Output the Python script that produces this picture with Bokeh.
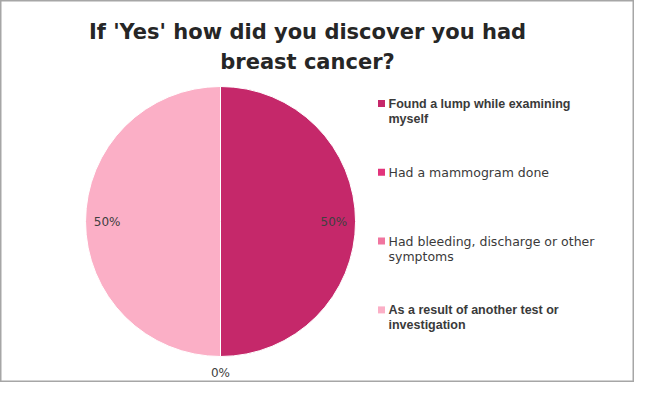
import math
from bokeh.plotting import figure
from bokeh.models import ColumnDataSource, Range1d
from bokeh.core.properties import value
from bokeh.embed import file_html
from bokeh.resources import INLINE

# ---- data ----
title_lines = ["If 'Yes' how did you discover you had", "breast cancer?"]
categories = [
    "Found a lump while examining\nmyself",
    "Had a mammogram done",
    "Had bleeding, discharge or other\nsymptoms",
    "As a result of another test or\ninvestigation",
]
values = [50, 0, 0, 50]
colors = ["#C5286A", "#E2347C", "#F0759F", "#FBAFC6"]
legend_bold = [True, False, False, True]

FONT = "DejaVu Sans"
BOLD_FONT = "Liberation Sans"
TXT = "#3A3A3A"

W, H = 634, 382

p = figure(width=W, height=H, output_backend="svg", toolbar_location=None,
           x_range=Range1d(0, W), y_range=Range1d(0, H), min_border=0)
p.axis.visible = False
p.grid.visible = False
p.outline_line_color = "#A6A6A6"
p.outline_line_width = 2
p.background_fill_color = "white"
p.border_fill_color = "white"

def X(xpage):
    return xpage

def Y(ypage):
    return H - ypage

# ---- title ----
p.text(x=[X(307), X(307)], y=[Y(31), Y(61)], text=title_lines,
       text_font=value(FONT), text_font_style="bold", text_font_size="21px",
       text_color="#262626", text_align="center", text_baseline="middle")

# ---- pie ----
cx, cy, r = X(220), Y(221), 135
total = float(sum(values))
starts, ends = [], []
cum = 0.0
for v in values:
    starts.append(math.pi / 2 - 2 * math.pi * cum / total)
    cum += v
    ends.append(math.pi / 2 - 2 * math.pi * cum / total)

nz = [i for i, v in enumerate(values) if v > 0]
wsrc = ColumnDataSource(dict(
    start=[starts[i] for i in nz], end=[ends[i] for i in nz],
    color=[colors[i] for i in nz]))
p.wedge(x=cx, y=cy, radius=r, start_angle="start", end_angle="end",
        direction="clock", fill_color="color", line_color="white",
        line_width=1, source=wsrc)

# ---- percentage labels ----
lx, ly, lt = [], [], []
seen = set()
for i, v in enumerate(values):
    mid = (starts[i] + ends[i]) / 2
    dist = r * 0.84 if v > 0 else r * 1.12
    x = cx + dist * math.cos(mid)
    y = cy + dist * math.sin(mid)
    key = (round(x), round(y))
    if key in seen:
        continue
    seen.add(key)
    lx.append(x); ly.append(y); lt.append(f"{round(v / total * 100)}%")
p.text(x=lx, y=ly, text=lt, text_font=value(FONT), text_font_size="12px",
       text_color="#404040", text_align="center", text_baseline="middle")

# ---- legend ----
leg_y0, leg_step, line_h = 103, 68.8, 15
sq_x, txt_x = 381, 388
for i, cat in enumerate(categories):
    yc = leg_y0 + i * leg_step
    p.rect(x=X(sq_x), y=Y(yc), width=7, height=7, fill_color=colors[i],
           line_color=None)
    lines = cat.split("\n")
    b = legend_bold[i]
    p.text(x=[X(txt_x)] * len(lines),
           y=[Y(yc + k * line_h) for k in range(len(lines))],
           text=lines, text_font=value(BOLD_FONT if b else FONT),
           text_font_style="bold" if b else "normal",
           text_font_size="12.5px",
           text_color=TXT, text_align="left", text_baseline="middle")

open("out.html", "w").write(file_html(p, INLINE))
